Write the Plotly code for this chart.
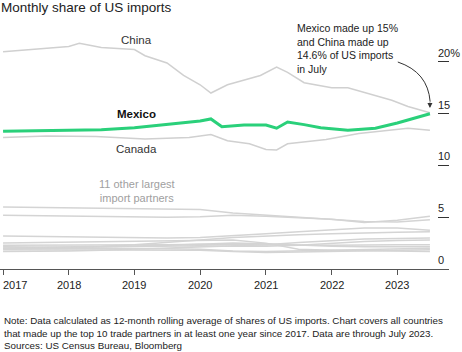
import plotly.graph_objects as go

# ---------------- data ----------------
mexico_dates = ["2017-01-01", "2017-07-01", "2018-01-01", "2018-07-01", "2019-01-01", "2019-07-01",
                "2020-01-01", "2020-03-01", "2020-05-01", "2020-09-01", "2021-01-01", "2021-03-01",
                "2021-05-01", "2021-08-01", "2021-11-01", "2022-04-01", "2022-09-01", "2023-01-01",
                "2023-07-01"]
mexico_vals = [13.3, 13.35, 13.4, 13.45, 13.65, 13.95, 14.3, 14.5, 13.75, 13.9, 13.9, 13.6,
               14.2, 13.95, 13.65, 13.4, 13.6, 14.1, 15.0]

china_dates = ["2017-01-01", "2017-07-01", "2018-01-01", "2018-03-01", "2018-07-01", "2019-01-01",
               "2019-03-01", "2019-07-01", "2019-10-01", "2020-01-01", "2020-03-01", "2020-06-01",
               "2020-12-01", "2021-03-01", "2021-05-01", "2021-08-01", "2022-01-01", "2022-04-01",
               "2022-10-01", "2022-12-01", "2023-03-01", "2023-05-01", "2023-07-01"]
china_vals = [21.0, 21.25, 21.5, 21.8, 21.4, 21.2, 20.6, 19.9, 18.7, 17.8, 17.0, 17.8,
              18.7, 19.5, 19.0, 18.0, 17.5, 17.5, 16.6, 16.3, 15.7, 15.4, 15.1]

canada_dates = ["2017-01-01", "2017-09-01", "2018-06-01", "2019-03-01", "2019-11-01", "2020-03-01",
                "2020-06-01", "2020-10-01", "2021-01-01", "2021-03-01", "2021-05-01", "2021-08-01",
                "2021-12-01", "2022-06-01", "2023-01-01", "2023-03-01", "2023-07-01"]
canada_vals = [12.7, 12.85, 12.8, 12.55, 12.7, 13.0, 12.4, 12.1, 11.55, 11.5, 12.1, 12.3,
               12.5, 13.1, 13.5, 13.6, 13.4]

other_dates = ["2017-01-01", "2017-07-01", "2018-01-01", "2018-07-01", "2019-01-01", "2019-07-01",
               "2020-01-01", "2020-07-01", "2021-01-01", "2021-07-01", "2022-01-01", "2022-07-01",
               "2023-01-01", "2023-07-01"]
other_a = [6.0, 5.95, 5.9, 5.85, 5.8, 5.75, 5.75, 5.4, 5.2, 5.05, 4.85, 4.6, 4.55, 4.75]
other_b = [5.2, 5.15, 5.1, 5.05, 5.0, 5.0, 5.05, 5.2, 5.1, 4.95, 4.8, 4.5, 4.7, 5.1]
other_c = [3.2, 3.15, 3.1, 3.05, 3.0, 3.0, 3.05, 3.2, 3.4, 3.6, 3.8, 3.95, 3.95, 3.75]
other_d = [2.0, 2.05, 2.1, 2.2, 2.35, 2.55, 2.8, 3.05, 3.2, 3.3, 3.4, 3.5, 3.55, 3.6]
other_e = [2.5, 2.55, 2.6, 2.65, 2.7, 2.75, 2.8, 2.8, 2.5, 1.9, 1.8, 1.75, 1.7, 1.7]
other_f = [1.7, 1.7, 1.75, 1.8, 1.9, 2.0, 2.1, 2.2, 2.35, 2.55, 2.75, 2.9, 2.95, 3.0]
other_g = [2.3, 2.3, 2.3, 2.3, 2.35, 2.35, 2.4, 2.35, 2.3, 2.3, 2.3, 2.35, 2.35, 2.35]
other_h = [2.0, 2.05, 2.1, 2.15, 2.2, 2.2, 2.25, 2.2, 2.2, 2.3, 2.5, 2.65, 2.75, 2.8]
other_i = [2.15, 2.1, 2.1, 2.15, 2.2, 2.3, 2.4, 2.5, 2.45, 2.3, 2.2, 2.15, 2.15, 2.15]
other_j = [2.0, 2.0, 2.0, 1.95, 1.95, 1.95, 1.9, 1.75, 1.7, 1.75, 1.8, 1.85, 1.9, 2.0]
other_k = [1.85, 1.85, 1.85, 1.85, 1.8, 1.8, 1.8, 1.7, 1.6, 1.65, 1.7, 1.75, 1.8, 1.85]
others = [other_a, other_b, other_c, other_d, other_e, other_f, other_g, other_h, other_i, other_j, other_k]

year_ticks = ["2017-01-01", "2018-01-01", "2019-01-01", "2020-01-01", "2021-01-01", "2022-01-01", "2023-01-01"]
year_labels = ["2017", "2018", "2019", "2020", "2021", "2022", "2023"]
y_ticks = [0, 5, 10, 15, 20]
y_labels = ["0", "5", "10", "15", "20%"]

title_text = "Monthly share of US imports"
note_text = ("Note: Data calculated as 12-month rolling average of shares of US imports. Chart covers all countries<br>"
             "that made up the top 10 trade partners in at least one year since 2017. Data are through July 2023.<br>"
             "Sources: US Census Bureau, Bloomberg")
callout_text = "Mexico made up 15%<br>and China made up<br>14.6% of US imports<br>in July"

# ---------------- figure ----------------
FONT = "Liberation Sans, Arial, sans-serif"
TXT = "#222222"
GRAY = "#d4d4d4"

fig = go.Figure()
for vals in others:
    fig.add_trace(go.Scatter(x=other_dates, y=vals, mode="lines",
                             line=dict(color=GRAY, width=1.5), hoverinfo="skip"))
fig.add_trace(go.Scatter(x=china_dates, y=china_vals, mode="lines",
                         line=dict(color="#d0d0d0", width=1.5)))
fig.add_trace(go.Scatter(x=canada_dates, y=canada_vals, mode="lines",
                         line=dict(color="#d0d0d0", width=1.5)))
fig.add_trace(go.Scatter(x=mexico_dates, y=mexico_vals, mode="lines",
                         line=dict(color="#2ad07a", width=3)))

fig.update_layout(
    width=462, height=352,
    margin=dict(l=0, r=13, t=30, b=83),
    paper_bgcolor="white", plot_bgcolor="white",
    showlegend=False,
    font=dict(family=FONT, color=TXT),
    xaxis=dict(type="date", range=["2016-12-15", "2023-10-15"],
               showgrid=False, zeroline=False, showline=True, linecolor="#555555", linewidth=1,
               ticks="outside", ticklen=5, tickcolor="#555555", tickwidth=1,
               tickvals=year_ticks, showticklabels=False),
    yaxis=dict(range=[0, 23.09], side="right", showgrid=False, zeroline=False, showline=False,
               ticks="inside", ticklen=11, tickcolor="#333333", tickwidth=1,
               tickvals=y_ticks, showticklabels=False),
)

ann = []
# title
ann.append(dict(text=title_text, xref="paper", yref="paper", x=0, y=1, xanchor="left", yanchor="bottom",
                xshift=-1, yshift=13, showarrow=False, font=dict(size=13.5, color=TXT)))
# year labels
for i, (t, lab) in enumerate(zip(year_ticks, year_labels)):
    ann.append(dict(text=lab, xref="x", yref="paper", x=t, y=0, yanchor="top",
                    xanchor="left" if i == 0 else "center", xshift=-2 if i == 0 else 0,
                    yshift=-8, showarrow=False, font=dict(size=11, color=TXT)))
# y labels
for v, lab in zip(y_ticks, y_labels):
    ann.append(dict(text=lab, xref="paper", yref="y", x=1, y=v, xanchor="left", yanchor="bottom",
                    xshift=-13, yshift=1, showarrow=False, font=dict(size=11, color=TXT)))
# series labels
ann.append(dict(text="China", x="2019-01-15", y=22.1, xref="x", yref="y", showarrow=False,
                font=dict(size=11.5, color="#333333")))
ann.append(dict(text="<b>Mexico</b>", x="2019-01-15", y=15.0, xref="x", yref="y", showarrow=False,
                font=dict(size=11.5, color="#111111")))
ann.append(dict(text="Canada", x="2019-01-15", y=11.6, xref="x", yref="y", showarrow=False,
                font=dict(size=11.5, color="#333333")))
ann.append(dict(text="11 other largest<br>import partners", x="2019-01-15", y=7.5, xref="x", yref="y",
                showarrow=False, font=dict(size=11, color="#a0a0a0")))
# callout
ann.append(dict(text=callout_text, x="2021-06-10", y=1, xref="x", yref="paper", xanchor="left",
                yanchor="top", align="left", yshift=10, showarrow=False, font=dict(size=10.5, color=TXT)))
ann.append(dict(text="", x="2023-07-01", y=15.55, xref="x", yref="y", showarrow=True,
                ax=0, ay=-7, arrowhead=2, arrowsize=1, arrowwidth=1, arrowcolor="#333333", standoff=0))
# note
ann.append(dict(text=note_text, xref="paper", yref="paper", x=0, y=0, xanchor="left", yanchor="top",
                align="left", xshift=2, yshift=-44, showarrow=False, font=dict(size=9.8, color=TXT)))
fig.update_layout(annotations=ann)

fig.add_shape(type="path", xref="paper", yref="paper",
              path="M 0.886 0.866 Q 0.953 0.824 0.958 0.700",
              line=dict(color="#333333", width=1))

fig.write_html("out.html")
